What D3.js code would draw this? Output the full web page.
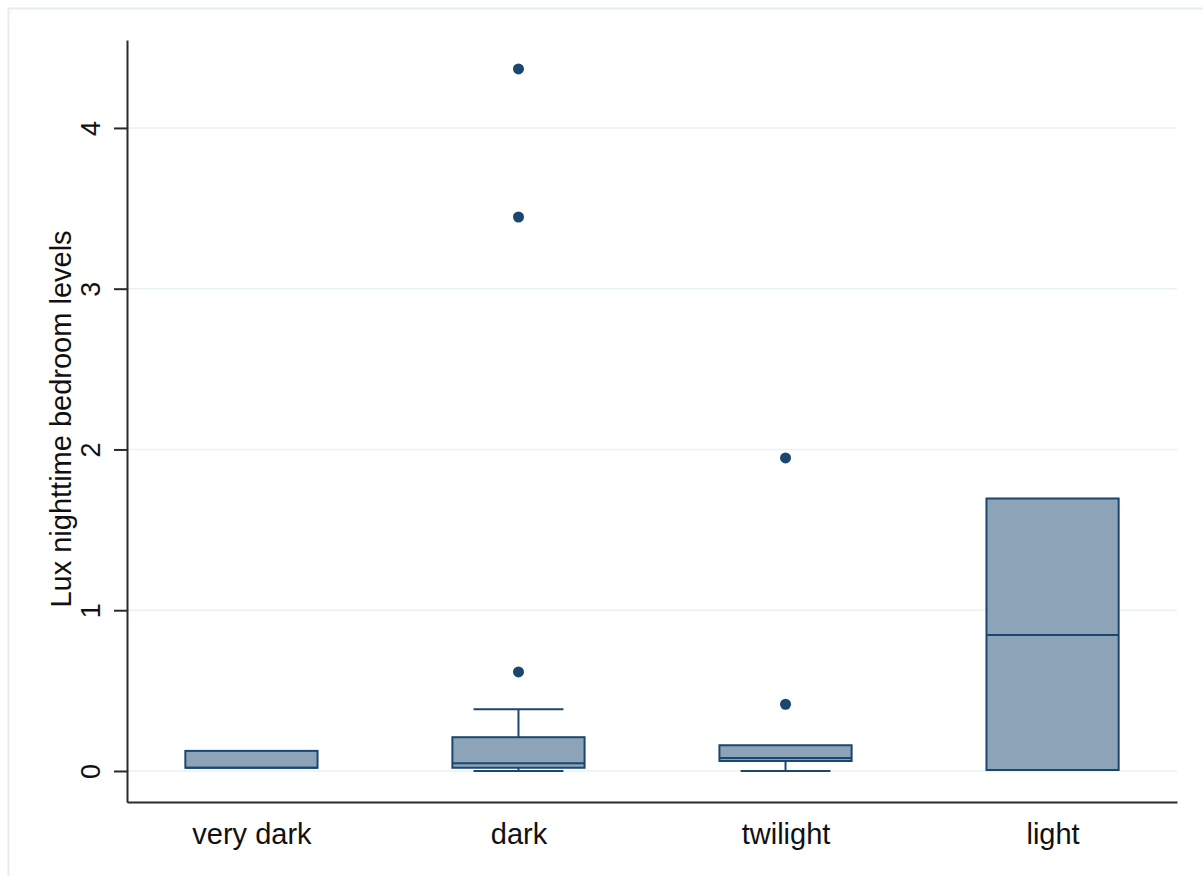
<!DOCTYPE html>
<html>
<head>
<meta charset="utf-8">
<script src="https://cdn.jsdelivr.net/npm/d3@7"></script>
<style>
  html, body { margin: 0; padding: 0; background: #ffffff; overflow: hidden; }
  svg { display: block; }
  text { font-family: "Liberation Sans", Arial, sans-serif; fill: #111; }
</style>
</head>
<body>
<svg id="chart" width="1203" height="876"></svg>
<script>
// Nighttime bedroom light levels by perceived darkness
const categories = ["very dark", "dark", "twilight", "light"];
const lowerWhisker = [0.02, 0.0, 0.0, 0.006];
const q1 = [0.02, 0.02, 0.062, 0.006];
const median = [0.02, 0.048, 0.08, 0.846];
const q3 = [0.125, 0.21, 0.16, 1.695];
const upperWhisker = [0.125, 0.384, 0.16, 1.695];
const outliers = [[], [0.616, 3.446, 4.367], [0.415, 1.947], []];
const yTicks = [0, 1, 2, 3, 4];
const yTitle = "Lux nighttime bedroom levels";

const W = 1203, H = 876;
const plot = { left: 127, right: 1177, top: 40, bottom: 802 };

const navy = "#1a476f";
const boxFill = "#8da3b8";
const gridColor = "#eaf1f3";
const tickSize = "27px";
const labelSize = "29px";

const svg = d3.select("#chart");

// outer graph-region frame
svg.append("rect")
  .attr("x", 8.5).attr("y", 8.5)
  .attr("width", W + 20).attr("height", H + 20)
  .attr("fill", "#ffffff")
  .attr("stroke", "#e4edef")
  .attr("stroke-width", 2);

const x = d3.scalePoint()
  .domain(categories)
  .range([plot.left, plot.right])
  .padding(0.466);

const y = d3.scaleLinear()
  .domain([-0.193, 4.547])
  .range([plot.bottom, plot.top]);

const boxW = x.step() * 0.495;
const capW = boxW * 0.68;

// horizontal grid lines
svg.append("g")
  .selectAll("line")
  .data(yTicks)
  .join("line")
  .attr("x1", plot.left).attr("x2", plot.right)
  .attr("y1", d => y(d)).attr("y2", d => y(d))
  .attr("stroke", gridColor)
  .attr("stroke-width", 1.5);

// y axis
const yAxis = svg.append("g")
  .attr("transform", `translate(${plot.left},0)`)
  .call(d3.axisLeft(y).tickValues(yTicks).tickSize(13).tickSizeOuter(0).tickFormat(d3.format("d")));
yAxis.select(".domain").attr("stroke", "#2a2a2a").attr("stroke-width", 2);
yAxis.selectAll(".tick line").attr("stroke", "#2a2a2a").attr("stroke-width", 2);
yAxis.selectAll(".tick text")
  .attr("x", 0).attr("y", 0)
  .attr("dy", null)
  .attr("transform", "translate(-27,0) rotate(-90)")
  .attr("text-anchor", "middle")
  .style("font-size", tickSize)
  .style("font-family", "'Liberation Sans', Arial, sans-serif")
  .attr("fill", "#111");

// y axis title
svg.append("text")
  .attr("transform", `translate(71,${(plot.top + plot.bottom) / 2 - 2}) rotate(-90)`)
  .attr("text-anchor", "middle")
  .style("font-size", labelSize)
  .text(yTitle);

// x axis
const xAxis = svg.append("g")
  .attr("transform", `translate(0,${plot.bottom})`)
  .call(d3.axisBottom(x).tickSize(0).tickSizeOuter(0));
xAxis.select(".domain").attr("stroke", "#2a2a2a").attr("stroke-width", 2);
xAxis.selectAll(".tick text")
  .attr("y", 0).attr("dy", null)
  .attr("transform", "translate(0,42)")
  .style("font-size", labelSize)
  .style("font-family", "'Liberation Sans', Arial, sans-serif")
  .attr("fill", "#111");

// box plots
const rows = categories.map((c, i) => ({
  c, lo: lowerWhisker[i], q1: q1[i], med: median[i], q3: q3[i], hi: upperWhisker[i], out: outliers[i]
}));

const g = svg.append("g");
const box = g.selectAll("g.box").data(rows).join("g").attr("class", "box");

// whiskers
box.filter(d => d.hi > d.q3).append("line")
  .attr("x1", d => x(d.c)).attr("x2", d => x(d.c))
  .attr("y1", d => y(d.q3)).attr("y2", d => y(d.hi))
  .attr("stroke", navy).attr("stroke-width", 2);
box.filter(d => d.hi > d.q3).append("line")
  .attr("x1", d => x(d.c) - capW / 2).attr("x2", d => x(d.c) + capW / 2)
  .attr("y1", d => y(d.hi)).attr("y2", d => y(d.hi))
  .attr("stroke", navy).attr("stroke-width", 2);
box.filter(d => d.lo < d.q1).append("line")
  .attr("x1", d => x(d.c)).attr("x2", d => x(d.c))
  .attr("y1", d => y(d.q1)).attr("y2", d => y(d.lo))
  .attr("stroke", navy).attr("stroke-width", 2);
box.filter(d => d.lo < d.q1).append("line")
  .attr("x1", d => x(d.c) - capW / 2).attr("x2", d => x(d.c) + capW / 2)
  .attr("y1", d => y(d.lo)).attr("y2", d => y(d.lo))
  .attr("stroke", navy).attr("stroke-width", 2);

// boxes
box.append("rect")
  .attr("x", d => x(d.c) - boxW / 2)
  .attr("width", boxW)
  .attr("y", d => y(d.q3))
  .attr("height", d => y(d.q1) - y(d.q3))
  .attr("fill", boxFill)
  .attr("stroke", navy)
  .attr("stroke-width", 2);

// medians
box.append("line")
  .attr("x1", d => x(d.c) - boxW / 2).attr("x2", d => x(d.c) + boxW / 2)
  .attr("y1", d => y(d.med)).attr("y2", d => y(d.med))
  .attr("stroke", navy).attr("stroke-width", 2);

// outside values
box.selectAll("circle")
  .data(d => d.out.map(v => ({ c: d.c, v })))
  .join("circle")
  .attr("cx", d => x(d.c))
  .attr("cy", d => y(d.v))
  .attr("r", 5.5)
  .attr("fill", navy);
</script>
</body>
</html>
